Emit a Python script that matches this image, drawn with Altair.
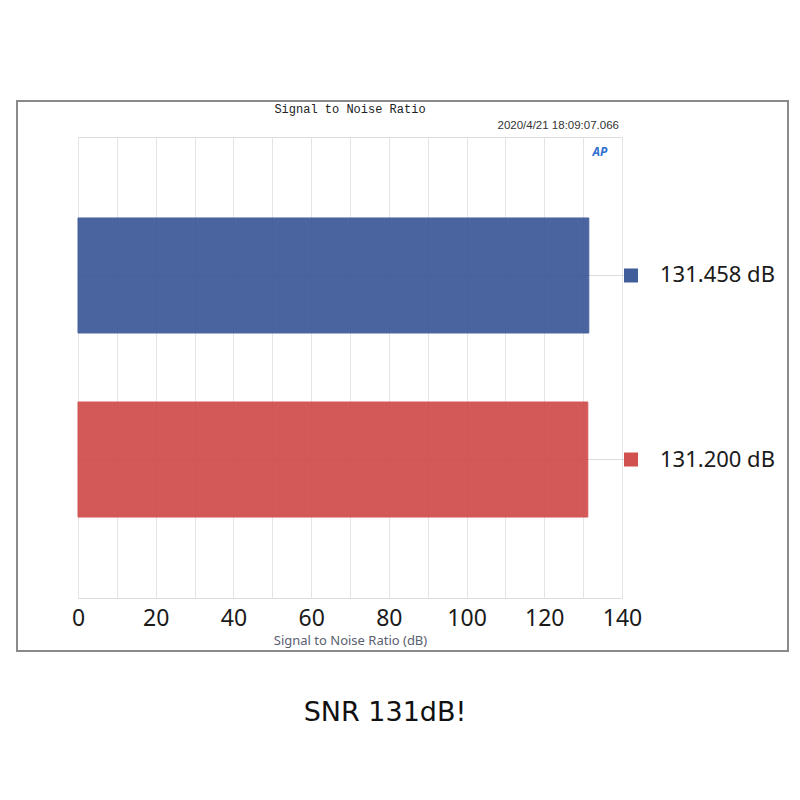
import altair as alt
import pandas as pd

channels = ["Ch1", "Ch2"]
snr_db = [131.458, 131.200]
bar_colors = ["#375495", "#cf4846"]
legend_labels = ["131.458  dB", "131.200  dB"]
grid_values = list(range(0, 141, 10))
title_text = "Signal to Noise Ratio"
timestamp = "2020/4/21 18:09:07.066"
x_title = "Signal to Noise Ratio (dB)"
caption = "SNR 131dB!"
logo_text = "AP"

df = pd.DataFrame({"ch": channels, "snr": snr_db, "label": legend_labels})
one = pd.DataFrame({"k": [0]})

W, H = 544, 461
FONT = "Noto Sans"

yscale = alt.Scale(domain=channels, paddingInner=0.375, paddingOuter=0.44)
color = alt.Color("ch:N", scale=alt.Scale(domain=channels, range=bar_colors), legend=None)

base = alt.Chart(df)

grid_h = base.mark_rule(color="#dcdcdc", strokeWidth=1).encode(
    y=alt.Y("ch:N", scale=yscale, axis=None),
    x=alt.value(0),
    x2=alt.value(W + 4),
)

bars = base.mark_bar(opacity=0.9, strokeWidth=1).encode(
    x=alt.X(
        "snr:Q",
        scale=alt.Scale(domain=[0, 140], nice=False),
        axis=alt.Axis(
            values=grid_values,
            labelExpr="datum.value % 20 == 0 ? datum.label : ''",
            title=x_title,
            titleFontSize=13,
            titleFontWeight="normal",
            titleColor="#5a6070",
            titleFont=FONT,
            titlePadding=4,
            labelFontSize=23,
            labelFont=FONT,
            labelColor="#1a1a1a",
            labelPadding=9,
            ticks=False,
            domain=False,
            grid=True,
            gridColor="#e4e4e4",
            labelFlush=False,
        ),
    ),
    y=alt.Y(
        "ch:N",
        scale=yscale,
        axis=alt.Axis(
            title=None,
            labelFontSize=22,
            labelFont=FONT,
            labelColor="#1a1a1a",
            labelPadding=8,
            ticks=False,
            domain=False,
            grid=False,
        ),
    ),
    color=color,
    stroke=color,
)

squares = base.mark_square(size=196, opacity=0.95).encode(
    x=alt.value(W + 9),
    y=alt.Y("ch:N", scale=yscale, axis=None),
    color=color,
)

legend_text = base.mark_text(
    align="left", baseline="middle", fontSize=22, font=FONT, color="#1a1a1a"
).encode(
    x=alt.value(W + 38),
    y=alt.Y("ch:N", scale=yscale, axis=None),
    text="label:N",
)

frame = alt.Chart(one).mark_rect(fill="transparent", stroke="#8a8a8a", strokeWidth=2).encode(
    x=alt.value(-61), x2=alt.value(710), y=alt.value(-36), y2=alt.value(514)
)

title_mark = alt.Chart(one).mark_text(
    text=title_text, font="Liberation Mono", fontSize=12, color="#222222", align="center", baseline="middle"
).encode(x=alt.value(W / 2), y=alt.value(-28))

time_mark = alt.Chart(one).mark_text(
    text=timestamp, font="Liberation Sans", fontSize=11.5, color="#333333", align="right", baseline="middle"
).encode(x=alt.value(W - 3), y=alt.value(-11))

logo_mark = alt.Chart(one).mark_text(
    text=logo_text, font=FONT, fontSize=12, fontStyle="italic", fontWeight="bold",
    color="#2f6fd0", align="center", baseline="middle"
).encode(x=alt.value(W - 22), y=alt.value(15))

caption_mark = alt.Chart(one).mark_text(
    text=caption, font="DejaVu Sans", fontSize=27, color="#111111", align="center", baseline="middle"
).encode(x=alt.value(307), y=alt.value(576))

chart = alt.layer(
    grid_h, bars, squares, legend_text, frame, title_mark, time_mark, logo_mark, caption_mark
).properties(
    width=W,
    height=H,
    autosize=alt.AutoSizeParams(type="none"),
    padding={"left": 70, "top": 129, "right": 170, "bottom": 194},
).configure_view(
    stroke="#ababab", strokeWidth=2
).configure(background="white")

chart.save("out.html", embed_options={"renderer": "svg", "actions": False})
